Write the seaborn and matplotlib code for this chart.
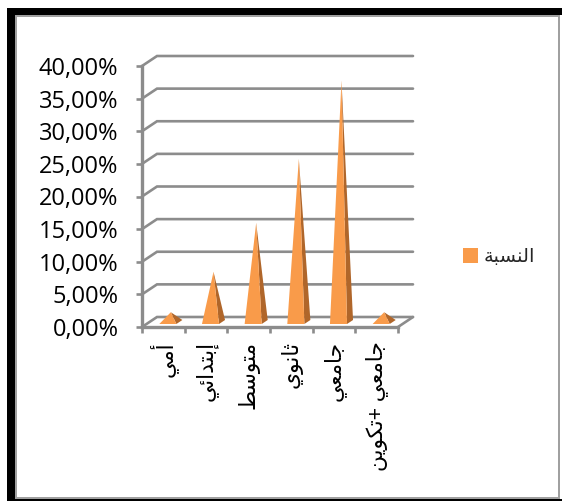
import matplotlib
matplotlib.use("Agg")
import matplotlib.pyplot as plt
import seaborn as sns
from matplotlib.patches import Patch, Polygon, Rectangle

# Education level shares (percent)
categories = ["أمي", "إبتدائي", "متوسط", "ثانوي", "جامعي", "جامعي +تكوين"]
shares = [1.5, 7.7, 15.2, 25.0, 37.0, 1.5]
series_name = "النسبة"
y_ticks = [0, 5, 10, 15, 20, 25, 30, 35, 40]
y_tick_labels = ["0,00%", "5,00%", "10,00%", "15,00%", "20,00%",
                 "25,00%", "30,00%", "35,00%", "40,00%"]

W, H = 563, 501
GREY = "#8c8c8c"
FACE = "#f99b4a"
SIDE = "#b0662a"

# Arabic letters: (isolated, final, initial, medial); two entries = no forward join
FORMS = {
    "ا": (0xFE8D, 0xFE8E), "أ": (0xFE83, 0xFE84), "إ": (0xFE87, 0xFE88),
    "ة": (0xFE93, 0xFE94), "د": (0xFEA9, 0xFEAA), "و": (0xFEED, 0xFEEE),
    "ب": (0xFE8F, 0xFE90, 0xFE91, 0xFE92), "ت": (0xFE95, 0xFE96, 0xFE97, 0xFE98),
    "ث": (0xFE99, 0xFE9A, 0xFE9B, 0xFE9C), "ج": (0xFE9D, 0xFE9E, 0xFE9F, 0xFEA0),
    "س": (0xFEB1, 0xFEB2, 0xFEB3, 0xFEB4), "ط": (0xFEC1, 0xFEC2, 0xFEC3, 0xFEC4),
    "ع": (0xFEC9, 0xFECA, 0xFECB, 0xFECC), "ك": (0xFED9, 0xFEDA, 0xFEDB, 0xFEDC),
    "ل": (0xFEDD, 0xFEDE, 0xFEDF, 0xFEE0), "م": (0xFEE1, 0xFEE2, 0xFEE3, 0xFEE4),
    "ن": (0xFEE5, 0xFEE6, 0xFEE7, 0xFEE8), "ي": (0xFEF1, 0xFEF2, 0xFEF3, 0xFEF4),
    "ئ": (0xFE89, 0xFE8A, 0xFE8B, 0xFE8C),
}


def shape_arabic(text):
    """Return text in visual order using contextual presentation forms."""
    out = []
    for i, ch in enumerate(text):
        forms = FORMS.get(ch)
        if forms is None:
            out.append(ch)
            continue
        prev = FORMS.get(text[i - 1]) if i else None
        nxt = FORMS.get(text[i + 1]) if i + 1 < len(text) else None
        joins_prev = prev is not None and len(prev) == 4
        joins_next = nxt is not None and len(forms) == 4
        if joins_prev and joins_next:
            code = forms[3]
        elif joins_prev:
            code = forms[1]
        elif joins_next:
            code = forms[2]
        else:
            code = forms[0]
        out.append(chr(code))
    return "".join(reversed(out))


sns.set_theme(style="white")
plt.rcParams["font.family"] = ["Open Sans", "DejaVu Sans"]

fig = plt.figure(figsize=(W / 100, H / 100), dpi=100, facecolor="white")
ax = fig.add_axes([142 / W, 1 - 327 / H, 256 / W, 261 / H])
ax.patch.set_alpha(0)

# Bars give each column's position and height; pyramids are built on top of them
sns.barplot(x=list(range(len(shares))), y=shares, color=FACE, width=0.4, ax=ax, zorder=3)
ax.set_xlim(-0.5, len(shares) - 0.5)
ax.set_ylim(0, 40)

# Depth of the 3D box, in data units
depth_x = 15 / (256 / len(shares))
depth_y = 10 / (261 / 40)

# Back wall gridlines with their slanted returns, and the floor's right edge
for tick in y_ticks:
    ax.plot([-0.5, -0.5 + depth_x, 5.5 + depth_x], [tick, tick + depth_y, tick + depth_y],
            color=GREY, lw=1.9, clip_on=False, zorder=1, solid_joinstyle="miter")
ax.plot([5.5, 5.5 + depth_x], [0, depth_y], color=GREY, lw=1.9, clip_on=False, zorder=1)

for bar in list(ax.patches):
    x0, w, v = bar.get_x(), bar.get_width(), bar.get_height()
    bar.remove()
    fx0, fx1 = x0 + 0.3 * depth_x, x0 + w + 0.3 * depth_x
    fy = 0.3 * depth_y
    bx1, by = x0 + w + 0.7 * depth_x, 0.7 * depth_y
    apex = (x0 + w / 2 + 0.5 * depth_x, v + 0.5 * depth_y)
    ax.add_patch(Polygon([(fx1, fy), (bx1, by), apex], closed=True, fc=SIDE, ec="none",
                         clip_on=False, zorder=3))
    ax.add_patch(Polygon([(fx0, fy), (fx1, fy), apex], closed=True, fc=FACE, ec="none",
                         clip_on=False, zorder=4))

# Axes: ticks on category boundaries, labels centred between them
for name in ("top", "right"):
    ax.spines[name].set_visible(False)
for name in ("left", "bottom"):
    ax.spines[name].set_color(GREY)
    ax.spines[name].set_linewidth(2.4)
    ax.spines[name].set_zorder(2)
ax.set_yticks(y_ticks, y_tick_labels)
ax.set_xticks([i - 0.5 for i in range(len(shares) + 1)], [""] * (len(shares) + 1))
ax.set_xticks(range(len(shares)), [shape_arabic(c) for c in categories], minor=True)
ax.tick_params(axis="y", length=4, width=1.9, color=GREY, labelsize=17, pad=13,
               labelcolor="black", left=True)
ax.tick_params(axis="x", which="major", length=4, width=1.9, color=GREY, bottom=True)
ax.tick_params(axis="x", which="minor", length=0, pad=10, labelsize=15.7, labelcolor="black",
               labelrotation=90)
for lab in ax.get_xticklabels(minor=True):
    lab.set_va("top")
    lab.set_ha("center")
ax.set_xlabel("")
ax.set_ylabel("")

ax.legend(handles=[Patch(fc=FACE, ec="none", label=shape_arabic(series_name))],
          loc="center left", bbox_to_anchor=(463 / W, 1 - 257 / H),
          bbox_transform=fig.transFigure, frameon=False, fontsize=14,
          handlelength=0.78, handleheight=0.78, handletextpad=0.3, borderpad=0, borderaxespad=0)


def frame_rect(x0, y0, x1, y1, color):
    fig.add_artist(Rectangle((x0 / W, 1 - y1 / H), (x1 - x0) / W, (y1 - y0) / H,
                             transform=fig.transFigure, fc=color, ec="none"))


# Page frame around the chart: heavy black edge and a thin grey inner rule
frame_rect(7, 8, 562, 15, "black")
frame_rect(7, 8, 15, 500, "black")
frame_rect(15, 15, 560, 17, "#a0a0a0")
frame_rect(15, 15, 17, 499, "#a0a0a0")
frame_rect(15, 497, 560, 499, "#a0a0a0")
frame_rect(558, 15, 560, 499, "#a0a0a0")
frame_rect(7, 499, 562, 501, "black")

fig.savefig("out.png", dpi=100)
